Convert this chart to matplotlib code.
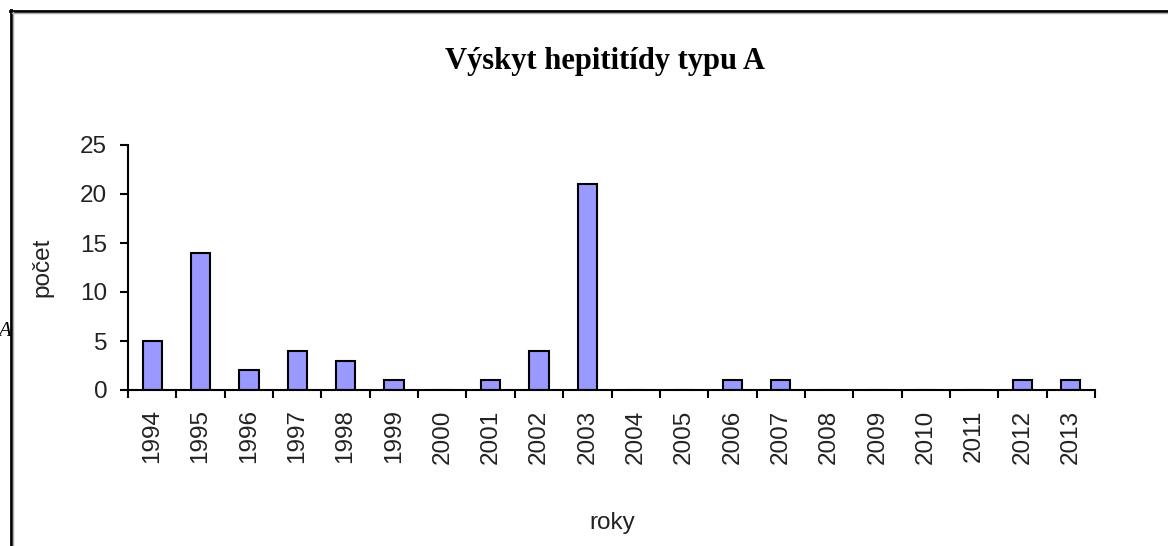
import numpy as np
import matplotlib.pyplot as plt
from matplotlib.lines import Line2D

# data
roky = ['1994', '1995', '1996', '1997', '1998', '1999', '2000', '2001', '2002', '2003',
        '2004', '2005', '2006', '2007', '2008', '2009', '2010', '2011', '2012', '2013']
pocet = [5, 14, 2, 4, 3, 1, 0, 1, 4, 21, 0, 0, 1, 1, 0, 0, 0, 0, 1, 1]
y_ticks = [0, 5, 10, 15, 20, 25]

W, H = 1168, 546
fig = plt.figure(figsize=(W / 100, H / 100), dpi=100)
fig.patch.set_facecolor('white')

ax = fig.add_axes([128 / W, 156 / H, 967 / W, 245 / H])
x = np.arange(len(roky))
ax.bar(x, pocet, width=0.4, color='#9999ff', edgecolor='black', linewidth=1.5)

fs = 17.5
ax.set_xlim(-0.5, len(roky) - 0.5)
ax.set_ylim(0, 25)
ax.set_yticks(y_ticks)
ax.set_xticks(x)
ax.set_xticklabels(roky, rotation=90, family='Liberation Sans', fontsize=fs, color='#222222')
ax.set_yticklabels([str(v) for v in y_ticks], family='Liberation Sans', fontsize=fs, color='#222222')
# tick marks sit between categories
ax.set_xticks(np.arange(len(roky) + 1) - 0.5, minor=True)
ax.tick_params(axis='x', which='major', length=0, pad=14)
ax.tick_params(axis='x', which='minor', length=6, width=1.5, direction='out')
ax.tick_params(axis='y', length=6, width=1.5, pad=9)
for s in ['top', 'right']:
    ax.spines[s].set_visible(False)
for s in ['left', 'bottom']:
    ax.spines[s].set_linewidth(1.5)

fig.text(605 / W, 1 - 62 / H, 'Výskyt hepititídy typu A', family='Liberation Serif',
         fontweight='bold', fontsize=22, ha='center', va='center')
fig.text(42 / W, 1 - 267 / H, 'počet', family='Liberation Sans', fontsize=fs,
         rotation=90, ha='center', va='center', color='#222222')
fig.text(612 / W, 1 - 523 / H, 'roky', family='Liberation Sans', fontsize=fs,
         ha='center', va='center', color='#222222')
fig.text(11 / W, 1 - 332 / H, 'A', family='Liberation Serif', style='italic',
         fontsize=15, ha='right', va='center')

# frame of the embedded picture (left and top edge)
fig.add_artist(Line2D([10.5 / W, 10.5 / W], [0, 1 - 10 / H], color='black', linewidth=2,
                      transform=fig.transFigure))
fig.add_artist(Line2D([10 / W, 1], [1 - 10.5 / H, 1 - 10.5 / H], color='black', linewidth=2,
                      transform=fig.transFigure))
fig.add_artist(Line2D([12.5 / W, 12.5 / W], [0, 1 - 12 / H], color='#aaaaaa', linewidth=1,
                      transform=fig.transFigure))
fig.add_artist(Line2D([12 / W, 1], [1 - 12.5 / H, 1 - 12.5 / H], color='#aaaaaa', linewidth=1,
                      transform=fig.transFigure))

fig.savefig('out.png', dpi=100)
